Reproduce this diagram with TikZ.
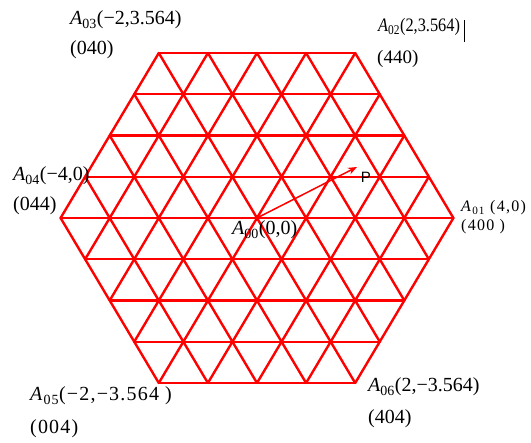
\documentclass[tikz,border=0pt]{standalone}
\usepackage{fontspec}
\setmainfont{Liberation Serif}
\setsansfont{Liberation Sans}
\usetikzlibrary{arrows.meta}
\begin{document}
\begin{tikzpicture}[x=1pt,y=1pt,
  gridline/.style={red, line width=2.4pt, line cap=round, line join=round},
  lbl/.style={anchor=base west, inner sep=0pt, text=black, font=\fontsize{20}{20}\selectfont},
  lblmid/.style={anchor=base west, inner sep=0pt, text=black, font=\fontsize{19}{19}\selectfont},
  lblsmall/.style={anchor=base west, inner sep=0pt, text=black, font=\fontsize{16}{16}\selectfont\addfontfeature{LetterSpace=8}},
  lblwide/.style={anchor=base west, inner sep=0pt, text=black, font=\fontsize{20}{20}\selectfont\addfontfeature{LetterSpace=6}},
  vec/.style={red, line width=1.5pt, -{Stealth[length=9pt,width=7pt]}}]
\useasboundingbox (-257,-225) rectangle (274,218);
\begin{scope}[x={(49.1pt,0pt)}, y={(24.55pt,41.25pt)}]
  \foreach \b in {-4,...,4}{
    \pgfmathtruncatemacro{\amin}{max(-4,-4-\b)}
    \pgfmathtruncatemacro{\amax}{min(4,4-\b)}
    \draw[gridline] (\amin,\b) -- (\amax,\b);
  }
  \foreach \a in {-4,...,4}{
    \pgfmathtruncatemacro{\bmin}{max(-4,-4-\a)}
    \pgfmathtruncatemacro{\bmax}{min(4,4-\a)}
    \draw[gridline] (\a,\bmin) -- (\a,\bmax);
  }
  \foreach \c in {-4,...,4}{
    \pgfmathtruncatemacro{\bmin}{max(-4,\c-4)}
    \pgfmathtruncatemacro{\bmax}{min(4,\c+4)}
    \pgfmathtruncatemacro{\aone}{\c-\bmin}
    \pgfmathtruncatemacro{\atwo}{\c-\bmax}
    \draw[gridline] (\aone,\bmin) -- (\atwo,\bmax);
  }
\end{scope}
\coordinate (O) at (0,0);
\coordinate (Ptip) at (100,51);
\draw[vec] (O) -- (Ptip);
\node[anchor=center, inner sep=0pt, font=\sffamily\fontsize{15}{15}\selectfont] (P) at (109,40.5) {P};
\node[lbl] (a03) at (-187,193) {\textit{A}\textsubscript{03}(−2,3.564)};
\node[lbl] (c03) at (-187,163) {(040)};
\node[lblmid] (a02) at (121,186) {\scalebox{0.86}[1]{\textit{A}\textsubscript{02}(2,3.564)}};
\coordinate (cur1) at (208,198);
\coordinate (cur2) at (208,176);
\draw[black, line width=1pt] (cur1) -- (cur2);
\node[lblmid] (c02) at (120,154) {(440)};
\node[lbl] (a04) at (-244,37) {\textit{A}\textsubscript{04}(−4,0)};
\node[lbl] (c04) at (-244,7) {(044)};
\node[lblsmall] (a01) at (204,6) {\textit{A}\textsubscript{01} (4,0)};
\node[lblsmall] (c01) at (204,-13) {(400 )};
\node[lbl] (a00) at (-25,-17) {\textit{A}\textsubscript{00}(0,0)};
\node[lblwide] (a05) at (-227,-183) {\textit{A}\textsubscript{05}(−2,−3.564 )};
\node[lblwide] (c05) at (-227,-216) {(004)};
\node[lbl] (a06) at (111,-174) {\textit{A}\textsubscript{06}(2,−3.564)};
\node[lbl] (c06) at (111,-206) {(404)};
\end{tikzpicture}
\end{document}
